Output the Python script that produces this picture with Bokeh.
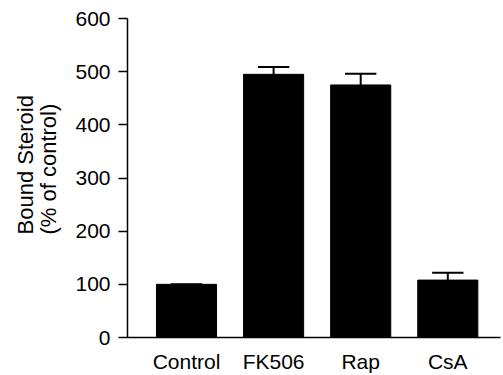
from bokeh.plotting import figure
from bokeh.models import FixedTicker, Range1d, ColumnDataSource, Title
from bokeh.embed import file_html
from bokeh.resources import INLINE

categories = ["Control", "FK506", "Rap", "CsA"]
bound_steroid = [100, 495, 475, 108]
error_up = [0, 14, 21, 14]
y_ticks = [0, 100, 200, 300, 400, 500, 600]
y_title = "Bound Steroid\n(% of control)"

xs = list(range(1, len(categories) + 1))
tops = [v + e for v, e in zip(bound_steroid, error_up)]
cap_half = 0.18
src = ColumnDataSource(dict(
    x=xs, top=bound_steroid, hi=tops,
    x0=[x - cap_half for x in xs], x1=[x + cap_half for x in xs],
))

FONT = "Liberation Sans"

p = figure(width=503, height=375, output_backend="svg", toolbar_location=None,
           x_range=Range1d(0.3226, 4.605), y_range=Range1d(0, 600),
           min_border_left=127, min_border_right=3, min_border_top=18,
           min_border_bottom=36)
p.outline_line_color = None
p.grid.visible = False
p.background_fill_color = "white"

p.vbar(x="x", top="top", width=0.69, bottom=0, source=src,
       fill_color="black", line_color="black")
p.segment(x0="x", y0="top", x1="x", y1="hi", source=src,
          line_color="black", line_width=2)
p.segment(x0="x0", y0="hi", x1="x1", y1="hi", source=src,
          line_color="black", line_width=2)

# x axis
xa = p.xaxis[0]
xa.ticker = FixedTicker(ticks=xs)
xa.major_label_overrides = {x: c for x, c in zip(xs, categories)}
xa.major_tick_out = 0
xa.major_tick_in = 0
xa.minor_tick_out = 0
xa.minor_tick_in = 0
xa.axis_line_width = 1.5
xa.axis_line_color = "black"
xa.major_label_text_font = FONT
xa.major_label_text_font_size = "21px"
xa.major_label_text_color = "black"
xa.major_label_standoff = 12

# y axis
ya = p.yaxis[0]
ya.ticker = FixedTicker(ticks=y_ticks)
ya.major_tick_out = 9
ya.major_tick_in = 0
ya.minor_tick_out = 0
ya.minor_tick_in = 0
ya.major_tick_line_width = 1.5
ya.axis_line_width = 1.5
ya.axis_line_color = "black"
ya.major_tick_line_color = "black"
ya.major_label_text_font = FONT
ya.major_label_text_font_size = "21px"
ya.major_label_text_color = "black"
ya.major_label_standoff = 8

# y title as a left-side Title so it can be shifted upward like the reference
p.add_layout(Title(text=y_title, align="left", offset=103,
                   vertical_align="middle", standoff=21,
                   text_font=FONT, text_font_size="22px",
                   text_font_style="normal", text_color="black",
                   text_line_height=0.9), "left")

open("out.html", "w").write(file_html(p, INLINE))
